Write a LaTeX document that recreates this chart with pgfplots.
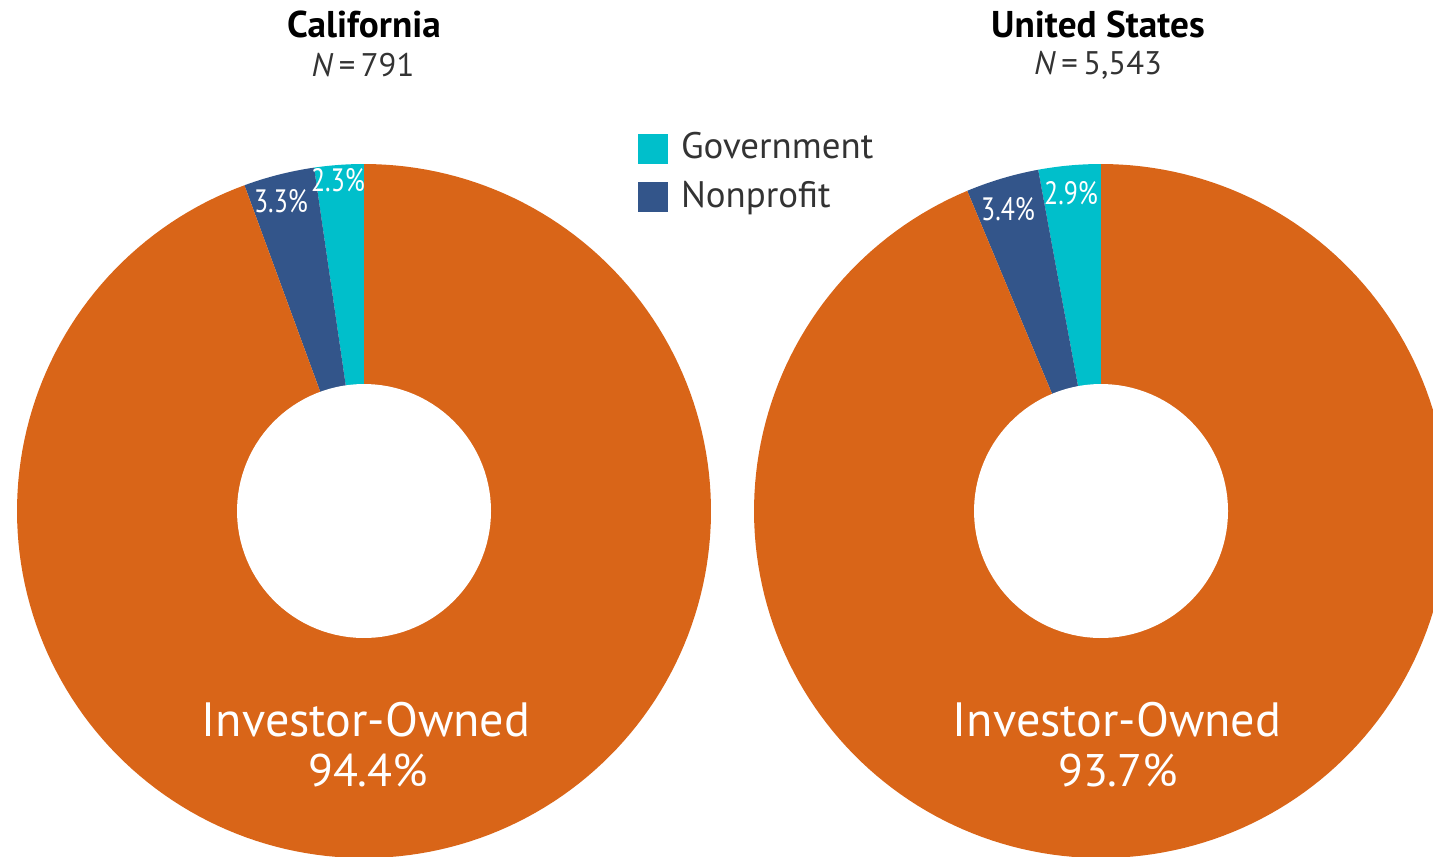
\documentclass[border=0pt]{standalone}
\usepackage{fontspec}
\setmainfont{PT Sans}
\usepackage{pgfplots}
\pgfplotsset{compat=1.18}

\definecolor{inv}{HTML}{D96518}
\definecolor{gov}{HTML}{00BFCB}
\definecolor{npf}{HTML}{33558A}
\definecolor{txt}{HTML}{333333}

% shares in percent
\def\caGov{2.3}\def\caNpf{3.3}\def\caInv{94.4}
\def\usGov{2.9}\def\usNpf{3.4}\def\usInv{93.7}

\newcommand{\fs}[1]{\fontsize{#1}{#1}\selectfont}

\begin{document}
\begin{tikzpicture}
\useasboundingbox (0,0) rectangle (14.33cm,8.56cm);
\clip (0,0) rectangle (14.33cm,8.56cm);
\begin{axis}[
  at={(0,0)}, anchor=south west,
  width=14.33cm, height=8.56cm, scale only axis,
  xmin=0, xmax=1433, ymin=0, ymax=856,
  enlargelimits=false, hide axis, clip=true,
  legend style={at={(axis cs:637,727)}, anchor=north west, draw=none, fill=none,
    font=\fs{10.5pt}\color{txt}, row sep=2.7pt, inner sep=0pt,
    nodes={inner sep=0pt, text height=8.3pt, text depth=2.7pt}},
  legend cell align=left,
  legend image code/.code={\fill[#1] (0cm,-0.145cm) rectangle (0.29cm,0.145cm);
    \path (0.42cm,0);},
]
% ---------- California ----------
\pgfmathsetmacro{\aA}{90}
\pgfmathsetmacro{\aB}{90+3.6*\caGov}
\pgfmathsetmacro{\aC}{\aB+3.6*\caNpf}
\pgfmathsetmacro{\aD}{\aC+3.6*\caInv}
\addplot[fill=gov, draw=none, domain=\aA:\aB, samples=20, forget plot]
  ({364+347*cos(x)},{345+347*sin(x)}) -- (364,345) -- cycle;
\addplot[fill=npf, draw=none, domain=\aB:\aC, samples=20, forget plot]
  ({364+347*cos(x)},{345+347*sin(x)}) -- (364,345) -- cycle;
\addplot[fill=inv, draw=none, domain=\aC:\aD, samples=200, forget plot]
  ({364+347*cos(x)},{345+347*sin(x)}) -- (364,345) -- cycle;
\addplot[fill=white, draw=none, domain=0:360, samples=120, forget plot]
  ({364+127*cos(x)},{345+127*sin(x)}) -- cycle;
% ---------- United States ----------
\pgfmathsetmacro{\bA}{90}
\pgfmathsetmacro{\bB}{90+3.6*\usGov}
\pgfmathsetmacro{\bC}{\bB+3.6*\usNpf}
\pgfmathsetmacro{\bD}{\bC+3.6*\usInv}
\addplot[fill=gov, draw=none, domain=\bA:\bB, samples=20, forget plot]
  ({1101+347*cos(x)},{345+347*sin(x)}) -- (1101,345) -- cycle;
\addplot[fill=npf, draw=none, domain=\bB:\bC, samples=20, forget plot]
  ({1101+347*cos(x)},{345+347*sin(x)}) -- (1101,345) -- cycle;
\addplot[fill=inv, draw=none, domain=\bC:\bD, samples=200, forget plot]
  ({1101+347*cos(x)},{345+347*sin(x)}) -- (1101,345) -- cycle;
\addplot[fill=white, draw=none, domain=0:360, samples=120, forget plot]
  ({1101+127*cos(x)},{345+127*sin(x)}) -- cycle;

\addlegendimage{gov}\addlegendentry{Government}
\addlegendimage{npf}\addlegendentry{Nonprofit}

% titles
\node[font=\bfseries\fs{10.6pt}] at (364,832) {California};
\node[font=\fs{9.3pt}, text=txt] at (363,791) {\textit{N}\,=\,791};
\node[font=\bfseries\fs{10.6pt}] at (1098,832) {United States};
\node[font=\fs{9.3pt}, text=txt] at (1098,791) {\textit{N}\,=\,5,543};

% small labels
\node[font=\fs{9.2pt}, text=white] at (281,655) {\scalebox{0.8}[1]{3.3\%}};
\node[font=\fs{9.2pt}, text=white] at (338,676) {\scalebox{0.8}[1]{2.3\%}};
\node[font=\fs{9.2pt}, text=white] at (1008,647) {\scalebox{0.8}[1]{3.4\%}};
\node[font=\fs{9.2pt}, text=white] at (1071,663) {\scalebox{0.8}[1]{2.9\%}};

% big labels
\node[font=\fs{13.7pt}, text=white] at (366,136) {Investor-Owned};
\node[font=\fs{13pt}, text=white] at (368,86) {94.4\%};
\node[font=\fs{13.7pt}, text=white] at (1117,136) {Investor-Owned};
\node[font=\fs{13pt}, text=white] at (1118,86) {93.7\%};
\end{axis}
\end{tikzpicture}
\end{document}
